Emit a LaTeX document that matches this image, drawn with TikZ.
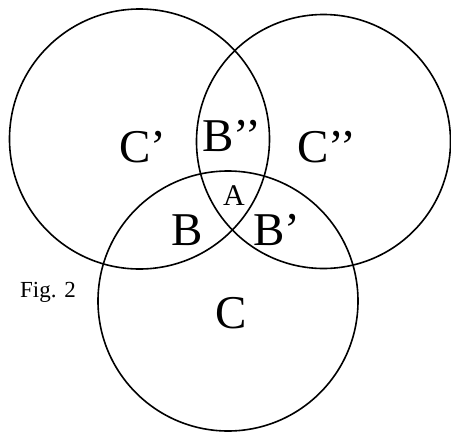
\documentclass[tikz,border=0pt]{standalone}
\usepackage{fontspec}
\setmainfont{Liberation Serif}
\usepackage{tikz}
\usetikzlibrary{positioning}

\begin{document}
\begin{tikzpicture}[
        x=1pt, y=-1pt,
        setcircle/.style={circle, draw=black, line width=1.6pt, inner sep=0pt},
        biglabel/.style={anchor=base, inner sep=0pt, font=\fontsize{47}{47}\selectfont},
        midlabel/.style={anchor=base, inner sep=0pt, font=\fontsize{30}{30}\selectfont},
        figlabel/.style={anchor=base, inner sep=0pt, font=\fontsize{23}{23}\selectfont}
        ]
        \useasboundingbox (0,0) rectangle (451,432);

        % The three circles
        \node[setcircle, minimum size=260pt] (leftset) at (139.5,139) {};
        \node[setcircle, minimum size=254pt] (rightset) at (323.5,141.5) {};
        \node[setcircle, minimum size=260pt] (lowerset) at (228,301) {};

        % Region labels
        \node[biglabel] (cone) at (142.5,162.5) {C’};
        \node[biglabel] (ctwo) at (327,162.5) {C’’};
        \node[biglabel] (bthree) at (232,151.5) {B’’};
        \node[midlabel] (acore) at (234,205) {A};
        \node[biglabel] (bone) at (187,245) {B};
        \node[biglabel] (btwo) at (277,245) {B’};
        \node[biglabel] (cthree) at (231.5,328) {C};

        % Caption
        \node[figlabel] (caption) at (48,297.5) {Fig. 2};

    \end{tikzpicture}
\end{document}
